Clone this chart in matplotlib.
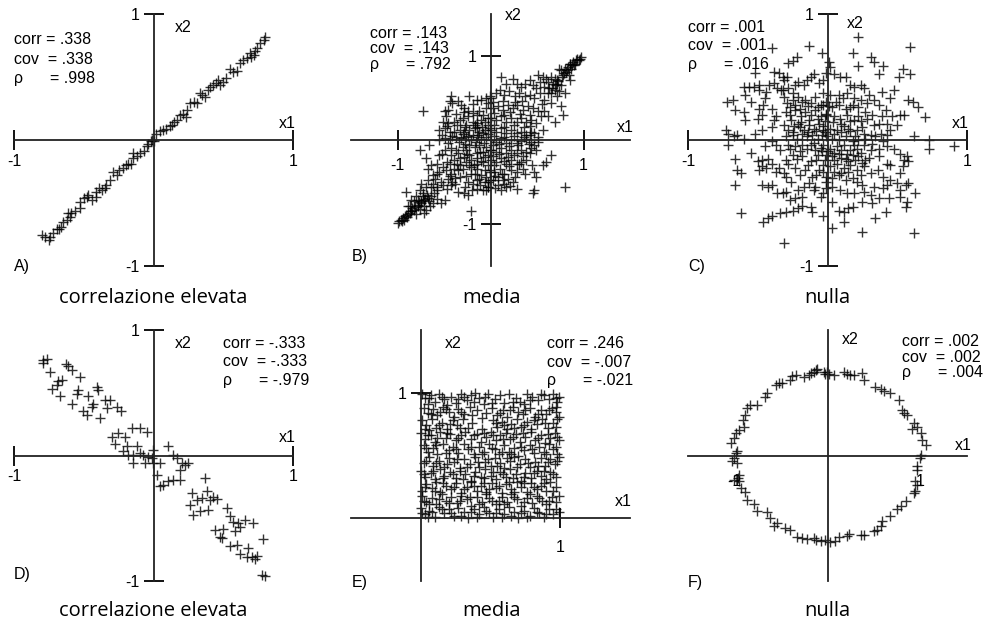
import matplotlib
matplotlib.use('Agg')
import matplotlib.pyplot as plt

W, H = 988, 625
plt.rcParams['font.family'] = ['Liberation Sans', 'DejaVu Sans']

# ---------------- data (x1, x2) ----------------
A_pts = [(-0.80,-0.754),(-0.78,-0.77),(-0.75,-0.79),(-0.74,-0.77),(-0.72,-0.74),(-0.69,-0.71),(-0.675,-0.71),
 (-0.66,-0.69),(-0.65,-0.65),(-0.62,-0.635),(-0.60,-0.61),(-0.59,-0.58),(-0.61,-0.58),(-0.56,-0.56),(-0.53,-0.54),
 (-0.53,-0.49),(-0.50,-0.46),(-0.48,-0.45),(-0.47,-0.44),(-0.44,-0.48),(-0.41,-0.45),(-0.41,-0.41),(-0.39,-0.38),
 (-0.37,-0.40),(-0.35,-0.38),(-0.34,-0.36),(-0.31,-0.32),(-0.29,-0.25),(-0.26,-0.28),(-0.25,-0.24),(-0.22,-0.22),
 (-0.20,-0.20),(-0.18,-0.19),(-0.16,-0.19),(-0.145,-0.145),(-0.145,-0.105),(-0.12,-0.13),(-0.10,-0.105),(-0.07,-0.09),
 (-0.05,-0.05),(-0.04,-0.03),(-0.02,-0.01),(-0.01,0.0),(0.0,-0.01),(0.02,0.05),(0.05,0.07),(0.07,0.08),(0.09,0.09),
 (0.12,0.11),(0.13,0.12),(0.15,0.145),(0.17,0.16),(0.19,0.20),(0.21,0.21),(0.23,0.185),(0.24,0.24),(0.26,0.29),
 (0.29,0.30),(0.31,0.29),(0.33,0.37),(0.345,0.36),(0.37,0.34),(0.39,0.40),(0.405,0.42),(0.43,0.44),(0.45,0.45),
 (0.465,0.48),(0.48,0.44),(0.50,0.46),(0.52,0.49),(0.55,0.56),(0.57,0.54),(0.60,0.55),(0.62,0.61),(0.64,0.635),
 (0.67,0.65),(0.69,0.69),(0.70,0.66),(0.72,0.675),(0.73,0.71),(0.74,0.73),(0.76,0.77),(0.79,0.79),(0.80,0.82)]

B_pts = [(-0.73,0.34),(-0.42,0.52),(-0.44,0.46),(-0.41,0.44),(-0.46,0.36),(-0.49,0.34),(-0.48,0.28),(-0.23,0.52),
 (-0.15,0.48),(-0.10,0.48),(-0.05,0.50),(-0.01,0.52),(-0.03,0.44),(-0.32,0.42),(-0.28,0.38),(-0.24,0.34),(-0.19,0.32),
 (-0.12,0.34),(-0.08,0.30),(-0.05,0.38),(-0.51,0.22),(-0.46,0.20),(-0.39,0.22),(-0.33,0.24),(-0.30,0.26),(-0.24,0.28),
 (-0.19,0.22),(-0.14,0.20),(-0.10,0.24),(-0.06,0.22),(-0.03,0.26),(-0.55,0.12),(-0.49,0.14),(-0.44,0.10),(-0.39,0.10),
 (-0.33,0.12),(-0.28,0.10),(-0.23,0.12),(-0.17,0.14),(-0.12,0.10),(-0.06,0.12),(-0.01,0.14),(-0.55,0.0),(-0.49,0.02),
 (-0.44,0.01),(-0.37,0.03),(-0.32,0.02),(-0.26,0.03),(-0.21,0.0),(-0.15,0.03),(-0.10,0.01),(-0.05,0.03),(-0.66,-0.06),
 (-0.76,-0.12),(-0.69,-0.22),(-0.55,-0.18),(-0.49,-0.12),(-0.42,-0.10),(-0.37,-0.12),(-0.30,-0.08),(-0.23,-0.06),
 (-0.17,-0.08),(-0.12,-0.06),(-0.05,-0.08),(-0.64,-0.30),(-0.67,-0.34),(-0.57,-0.28),(-0.51,-0.32),(-0.44,-0.28),
 (-0.39,-0.24),(-0.33,-0.22),(-0.28,-0.20),(-0.23,-0.18),(-0.15,-0.16),(-0.08,-0.14),(-0.03,-0.18),(-0.62,-0.42),
 (-0.55,-0.38),(-0.48,-0.36),(-0.42,-0.40),(-0.35,-0.36),(-0.30,-0.34),(-0.23,-0.30),(-0.15,-0.28),(-0.08,-0.26),
 (-0.03,-0.30),(-0.75,-0.52),(-0.67,-0.48),(-0.60,-0.46),(-0.53,-0.50),(-0.46,-0.46),(-0.41,-0.50),(-0.33,-0.44),
 (-0.26,-0.43),(-0.17,-0.40),(-0.10,-0.42),(-0.05,-0.44),(-0.91,-0.62),(-0.76,-0.60),(-0.69,-0.56),(-0.64,-0.56),
 (-0.58,-0.56),(-0.51,-0.54),(-0.42,-0.54),(-0.35,-0.62),(-0.28,-0.63),(-0.24,-0.65),(-0.15,-0.58),(-0.08,-0.60),
 (-0.03,-0.56),(-0.85,-0.71),(-0.80,-0.67),(-0.73,-0.67),(-0.75,-0.73),(-0.66,-0.73),(-0.62,-0.75),(-0.53,-0.75),
 (-0.49,-0.71),(-0.89,-0.79),(-0.84,-0.81),(-0.78,-0.77),(-0.69,-0.83),(-0.71,-0.87),(-0.21,-0.85),(-0.98,-0.97),
 (-0.94,-0.93),(-0.91,-0.89),(-0.87,-0.87),(-0.92,-0.91),(-1.00,-0.99),(-0.96,-0.95),(-0.89,-0.88),(-0.85,-0.85),
 (-0.82,-0.83),(-0.78,-0.79),(-0.75,-0.75),(-0.71,-0.72),(-0.67,-0.69),(-0.64,-0.67),(-0.78,-0.71),(-0.73,-0.63),
 (-0.82,-0.73),(-0.87,-0.79),(-0.26,0.18),(-0.19,0.06),(-0.14,0.16),(-0.08,0.08),(-0.03,0.18),(-0.26,-0.12),
 (-0.21,-0.24),(-0.14,-0.22),(-0.06,-0.20),(-0.01,-0.12),(-0.24,-0.50),(-0.19,-0.52),(-0.14,-0.48),(-0.06,-0.50),
 (-0.01,-0.48),(-0.21,-0.32),(-0.14,-0.34),(-0.06,-0.36),(-0.01,-0.38),(-0.33,-0.30),(-0.39,-0.34),
 (0.97,0.99),(0.96,0.97),(0.92,0.95),(0.89,0.93),(0.90,0.89),(0.85,0.91),(0.83,0.87),(0.80,0.85),(0.81,0.81),
 (0.76,0.83),(0.74,0.85),(0.87,0.85),(0.85,0.71),(0.78,0.77),(0.51,0.77),(0.56,0.75),(0.60,0.73),(0.65,0.75),
 (0.69,0.73),(0.71,0.71),(0.62,0.69),(0.67,0.67),(0.72,0.67),(0.58,0.63),(0.63,0.62),(0.69,0.60),(0.74,0.58),
 (0.65,0.56),(0.71,0.52),(0.80,0.56),(0.11,0.75),(0.17,0.67),(0.24,0.73),(0.29,0.67),(0.33,0.63),(0.37,0.67),
 (0.42,0.71),(0.46,0.65),(0.49,0.62),(0.53,0.69),(0.01,0.50),(0.06,0.56),(0.10,0.60),(0.15,0.54),(0.20,0.58),
 (0.26,0.52),(0.31,0.56),(0.37,0.52),(0.42,0.54),(0.47,0.50),(0.53,0.56),(0.58,0.48),(0.65,0.44),(0.76,0.40),
 (0.025,0.38),(0.08,0.40),(0.13,0.36),(0.19,0.42),(0.24,0.38),(0.29,0.42),(0.35,0.36),(0.40,0.40),(0.46,0.38),
 (0.51,0.34),(0.54,0.28),(0.62,0.28),(0.69,0.22),(0.78,0.30),(0.01,0.26),(0.06,0.24),(0.11,0.28),(0.17,0.22),
 (0.22,0.26),(0.28,0.22),(0.33,0.26),(0.38,0.22),(0.44,0.24),(0.49,0.20),(0.56,0.12),(0.47,0.08),(0.01,0.12),
 (0.06,0.10),(0.11,0.14),(0.17,0.08),(0.22,0.12),(0.28,0.08),(0.33,0.10),(0.38,0.06),(0.44,0.10),(0.51,0.03),
 (0.01,0.0),(0.06,-0.02),(0.11,0.02),(0.17,-0.04),(0.22,0.0),(0.28,-0.04),(0.33,-0.01),(0.38,0.01),(0.44,-0.02),
 (0.47,-0.06),(0.01,-0.12),(0.06,-0.14),(0.11,-0.10),(0.17,-0.16),(0.22,-0.12),(0.28,-0.16),(0.33,-0.12),(0.38,-0.14),
 (0.44,-0.10),(0.49,-0.12),(0.01,-0.24),(0.06,-0.26),(0.11,-0.22),(0.17,-0.28),(0.22,-0.24),(0.28,-0.28),(0.33,-0.26),
 (0.38,-0.24),(0.65,-0.18),(0.60,-0.26),(0.56,-0.30),(-0.01,-0.36),(0.04,-0.38),(0.10,-0.34),(0.15,-0.40),(0.22,-0.36),
 (0.29,-0.38),(0.35,-0.34),(0.47,-0.38),(0.49,-0.44),(-0.03,-0.50),(0.025,-0.48),(0.08,-0.44),(0.13,-0.48),(0.19,-0.46),
 (0.24,-0.50),(0.08,-0.54),(0.17,-0.56),(0.15,-0.52),(0.47,-0.60),(0.46,-0.63),(0.80,-0.56),(-0.05,-0.60),(-0.03,-0.56)]

B_pts2 = [(-0.47,0.17),(-0.36,0.18),(-0.27,0.15),(-0.17,0.18),(-0.09,0.16),(0.04,0.18),(0.14,0.16),(0.25,0.18),
 (0.36,0.15),(0.43,0.17),(-0.37,0.31),(-0.29,0.33),(-0.15,0.30),(0.04,0.32),(0.15,0.30),(0.21,0.33),(0.32,0.31),
 (0.43,0.30),(0.57,0.35),(-0.35,0.47),(-0.19,0.43),(0.03,0.45),(0.13,0.47),(0.26,0.45),(0.34,0.47),(0.55,0.43),
 (0.62,0.56),(-0.52,0.06),(-0.41,0.05),(-0.30,0.07),(-0.24,0.05),(-0.13,0.06),(-0.03,0.07),(0.04,0.05),(0.14,0.04),
 (0.25,0.05),(0.36,0.03),(0.42,0.06),(-0.46,-0.04),(-0.34,-0.02),(-0.27,-0.05),(-0.16,-0.02),(-0.07,-0.03),
 (0.03,-0.06),(0.09,-0.05),(0.20,-0.07),(0.30,-0.06),(0.41,-0.05),(0.51,-0.02),(-0.52,-0.17),(-0.43,-0.18),
 (-0.35,-0.15),(-0.25,-0.17),(-0.11,-0.14),(0.03,-0.19),(0.09,-0.17),(0.19,-0.20),(0.25,-0.18),(0.35,-0.19),
 (0.42,-0.16),(-0.47,-0.26),(-0.36,-0.29),(-0.26,-0.26),(-0.18,-0.30),(-0.10,-0.25),(0.04,-0.30),(0.14,-0.25),
 (0.20,-0.31),(0.31,-0.29),(0.45,-0.30),(-0.57,-0.40),(-0.44,-0.43),(-0.38,-0.45),(-0.21,-0.40),(-0.12,-0.46),
 (0.05,-0.43),(0.12,-0.41),(0.26,-0.44),(0.37,-0.41),(-0.62,-0.52),(-0.47,-0.58),(-0.38,-0.52),(-0.27,-0.56),
 (-0.20,-0.60),(-0.11,-0.54),(0.05,-0.57),(0.11,-0.60),(0.21,-0.55),(0.28,-0.58),(-0.95,-0.97),(-0.93,-0.95),
 (-0.90,-0.92),(-0.86,-0.84),(-0.81,-0.80),(-0.77,-0.74),(-0.70,-0.70),(-0.68,-0.65),(-0.61,-0.63),(-0.57,-0.60),
 (-0.80,-0.88),(-0.76,-0.82),(-0.72,-0.78),(-0.65,-0.79),(-0.58,-0.70),(0.95,0.95),(0.93,0.97),(0.91,0.91),
 (0.88,0.89),(0.86,0.90),(0.82,0.83),(0.79,0.80),(0.77,0.75),(0.73,0.70),(0.70,0.65),(0.66,0.62),(0.76,0.66),
 (0.84,0.77)]

C_pts = [(-0.40,0.73),(-0.13,0.75),(-0.04,0.69),(-0.25,0.63),(-0.22,0.66),(-0.28,0.61),(-0.52,0.53),(-0.38,0.54),
 (-0.35,0.53),(-0.32,0.50),(-0.29,0.50),(-0.31,0.48),(-0.12,0.50),(-0.10,0.52),(-0.15,0.48),(-0.21,0.46),(-0.23,0.44),
 (-0.17,0.44),(-0.06,0.45),(-0.03,0.48),(-0.60,0.42),(-0.56,0.42),(-0.53,0.42),(-0.49,0.44),(-0.59,0.36),(-0.49,0.40),
 (-0.44,0.38),(-0.42,0.44),(-0.38,0.45),(-0.36,0.41),(-0.32,0.40),(-0.28,0.41),(-0.25,0.37),(-0.72,0.30),(-0.68,0.32),
 (-0.66,0.24),(-0.60,0.22),(-0.59,0.16),(-0.49,0.25),(-0.47,0.20),(-0.50,0.17),(-0.46,0.28),(-0.40,0.25),(-0.37,0.19),
 (-0.38,0.16),(-0.31,0.34),(-0.29,0.29),(-0.25,0.32),(-0.23,0.28),(-0.21,0.34),(-0.18,0.30),(-0.16,0.32),(-0.12,0.29),
 (-0.09,0.34),(-0.05,0.28),(-0.01,0.30),(-0.30,0.22),(-0.27,0.20),(-0.23,0.24),(-0.19,0.19),(-0.16,0.22),(-0.12,0.20),
 (-0.09,0.24),(-0.05,0.19),(-0.01,0.21),(-0.31,0.12),(-0.28,0.08),(-0.24,0.11),(-0.21,0.13),(-0.17,0.08),(-0.13,0.12),
 (-0.10,0.09),(-0.06,0.13),(-0.03,0.08),(-0.30,0.03),(-0.25,0.04),(-0.22,0.01),(-0.18,0.05),(-0.15,0.03),(-0.11,0.04),
 (-0.07,0.01),(-0.04,0.04),(-0.73,0.08),(-0.71,0.05),(-0.67,0.03),(-0.65,0.04),(-0.71,-0.04),(-0.60,0.01),(-0.47,0.08),
 (-0.40,-0.01),(-0.66,-0.15),(-0.65,-0.24),(-0.62,-0.26),(-0.66,-0.36),(-0.50,-0.17),(-0.47,-0.16),(-0.43,-0.15),
 (-0.49,-0.24),(-0.47,-0.21),(-0.44,-0.22),(-0.40,-0.19),(-0.37,-0.25),(-0.35,-0.22),(-0.31,-0.26),(-0.30,-0.29),
 (-0.47,-0.36),(-0.43,-0.37),(-0.40,-0.36),(-0.36,-0.42),(-0.32,-0.42),(-0.30,-0.41),(-0.27,-0.48),(-0.23,-0.46),
 (-0.18,-0.45),(-0.21,-0.40),(-0.17,-0.37),(-0.13,-0.34),(-0.10,-0.40),(-0.09,-0.37),(-0.05,-0.45),(-0.03,-0.42),
 (-0.01,-0.33),(-0.11,-0.29),(-0.06,-0.24),(-0.16,-0.24),(-0.23,-0.22),(-0.28,-0.19),(-0.25,-0.12),(-0.18,-0.13),
 (-0.12,-0.17),(-0.07,-0.12),(-0.04,-0.09),(-0.23,-0.05),(-0.18,-0.04),(-0.12,-0.04),(-0.09,-0.08),(-0.34,-0.08),
 (-0.37,-0.04),(-0.28,-0.04),(-0.62,-0.58),(-0.46,-0.65),(-0.43,-0.62),(-0.40,-0.60),(-0.34,-0.58),(-0.30,-0.57),
 (-0.25,-0.56),(-0.21,-0.54),(-0.18,-0.52),(-0.11,-0.57),(-0.12,-0.53),(-0.31,-0.82),(-0.03,-0.60),
 (0.22,0.82),(0.59,0.74),(0.18,0.69),(0.31,0.66),(0.33,0.62),(0.22,0.59),(0.40,0.59),(0.37,0.52),(0.54,0.56),
 (0.51,0.50),(0.59,0.52),(0.48,0.40),(0.39,0.38),(0.45,0.33),(0.58,0.32),(0.61,0.30),(0.65,0.26),(0.70,0.18),
 (0.55,0.20),(0.52,0.20),(0.50,0.12),(0.45,0.08),(0.38,0.05),(0.43,0.04),(0.62,0.03),(0.73,0.0),(0.73,-0.07),
 (0.91,-0.05),(0.01,0.62),(0.02,0.58),(-0.01,0.53),(0.05,0.52),(0.09,0.50),(0.13,0.50),(0.16,0.44),(0.19,0.42),
 (0.24,0.44),(0.26,0.41),(-0.03,0.37),(0.02,0.36),(0.08,0.36),(0.14,0.37),(0.19,0.33),(0.24,0.32),(0.28,0.29),
 (0.33,0.32),(0.37,0.28),(0.42,0.24),(-0.03,0.28),(0.03,0.26),(0.08,0.28),(0.13,0.25),(0.18,0.28),(0.22,0.26),
 (0.27,0.22),(0.32,0.20),(0.39,0.19),(-0.01,0.20),(0.05,0.19),(0.09,0.17),(0.14,0.20),(0.19,0.16),(0.24,0.15),
 (0.28,0.17),(0.33,0.12),(0.37,0.13),(0.43,0.13),(-0.03,0.11),(0.02,0.09),(0.07,0.08),(0.12,0.11),(0.16,0.07),
 (0.21,0.08),(0.26,0.05),(0.31,0.04),(0.34,0.03),(-0.01,0.03),(0.03,0.01),(0.08,0.0),(0.13,0.03),(0.18,-0.01),
 (0.22,0.0),(0.27,0.01),(0.32,-0.03),(0.40,-0.01),(-0.03,-0.04),(0.02,-0.07),(0.07,-0.05),(0.12,-0.04),(0.16,-0.08),
 (0.21,-0.07),(0.26,-0.04),(0.31,-0.08),(0.37,-0.07),(0.43,-0.05),(0.48,-0.07),(-0.01,-0.12),(0.03,-0.13),(0.08,-0.11),
 (0.13,-0.15),(0.18,-0.12),(0.22,-0.13),(0.27,-0.16),(0.37,-0.13),(0.43,-0.19),(0.45,-0.20),(0.52,-0.11),(0.55,-0.16),
 (0.57,-0.13),(-0.03,-0.20),(0.02,-0.21),(0.07,-0.19),(0.12,-0.22),(0.16,-0.20),(0.21,-0.24),(0.26,-0.21),(0.31,-0.26),
 (0.40,-0.29),(0.45,-0.32),(0.50,-0.34),(0.54,-0.21),(0.58,-0.17),(-0.01,-0.29),(0.03,-0.30),(0.08,-0.28),(0.13,-0.32),
 (0.18,-0.30),(0.21,-0.33),(0.25,-0.36),(0.33,-0.37),(0.43,-0.36),(0.56,-0.36),(0.52,-0.40),(0.58,-0.34),(-0.01,-0.38),
 (0.03,-0.37),(0.09,-0.40),(0.14,-0.42),(0.19,-0.42),(0.26,-0.41),(0.31,-0.44),(0.37,-0.46),(0.44,-0.46),(0.52,-0.45),
 (0.57,-0.49),(0.63,-0.42),(0.03,-0.49),(0.08,-0.56),(0.12,-0.57),(0.15,-0.54),(0.18,-0.53),(0.25,-0.49),(0.32,-0.50),
 (0.42,-0.57),(0.56,-0.53),(0.34,-0.62),(0.12,-0.65),(0.03,-0.70),(0.25,-0.73),(0.62,-0.74)]

C_pts2 = [(-0.27,0.26),(-0.20,0.25),(-0.14,0.27),(-0.07,0.26),(0.01,0.27),(0.06,0.30),(0.11,0.33),(0.16,0.26),
 (-0.26,0.16),(-0.19,0.14),(-0.13,0.16),(-0.07,0.17),(-0.02,0.15),(0.04,0.14),(0.10,0.13),(0.16,0.15),(0.22,0.19),
 (-0.25,0.06),(-0.20,0.10),(-0.14,0.06),(-0.08,0.07),(-0.02,0.06),(0.05,0.05),(0.10,0.06),(0.15,0.09),(0.20,0.03),
 (0.25,0.10),(-0.27,-0.07),(-0.20,-0.09),(-0.15,-0.07),(-0.10,-0.02),(-0.05,-0.06),(0.00,-0.09),(0.05,-0.10),
 (0.10,-0.08),(0.14,-0.11),(0.19,-0.04),(0.24,-0.10),(-0.30,-0.16),(-0.22,-0.15),(-0.14,-0.20),(-0.08,-0.16),
 (-0.02,-0.16),(0.05,-0.16),(0.10,-0.14),(0.15,-0.17),(0.20,-0.16),(0.25,-0.18),(0.30,-0.14),(-0.26,-0.33),
 (-0.20,-0.28),(-0.08,-0.28),(-0.03,-0.25),(0.05,-0.25),(0.10,-0.26),(0.15,-0.25),(0.24,-0.28),(0.36,-0.24),
 (-0.52,0.05),(-0.45,-0.05),(-0.55,-0.10),(-0.40,0.10),(-0.33,0.40),(-0.45,0.33),(-0.55,0.30),(0.30,0.36),
 (0.46,0.19),(0.52,-0.26),(0.40,-0.38)]

D_pts = [(-0.79,0.757),(-0.766,0.768),(-0.79,0.736),(-0.742,0.669),(-0.73,0.529),(-0.694,0.563),(-0.682,0.59),
 (-0.658,0.603),(-0.67,0.475),(-0.627,0.73),(-0.61,0.714),(-0.587,0.683),(-0.527,0.624),(-0.539,0.523),(-0.551,0.491),
 (-0.587,0.412),(-0.503,0.351),(-0.479,0.324),(-0.467,0.475),(-0.443,0.39),(-0.431,0.412),(-0.407,0.545),(-0.395,0.523),
 (-0.384,0.297),(-0.348,0.444),(-0.336,0.377),(-0.312,0.444),(-0.264,0.39),(-0.235,0.351),(-0.30,0.151),(-0.276,0.093),
 (-0.252,0.178),(-0.204,0.151),(-0.157,0.218),(-0.097,0.218),(-0.049,0.191),(-0.192,0.077),(-0.121,0.077),(-0.216,0.032),
 (-0.18,0.005),(-0.145,0.005),(-0.097,0.019),(-0.073,0.005),(-0.037,-0.008),(-0.001,0.045),(-0.013,-0.021),(-0.145,-0.061),
 (-0.061,-0.061),(-0.001,-0.061),(0.047,-0.061),(0.106,0.072),(0.142,0.005),(0.166,-0.021),(0.202,-0.061),(0.19,-0.114),
 (0.226,-0.074),(0.25,-0.061),(0.023,-0.154),(0.047,-0.247),(0.07,-0.234),(0.106,-0.207),(0.142,-0.194),(0.19,-0.194),
 (0.274,-0.30),(0.31,-0.353),(0.345,-0.34),(0.369,-0.181),(0.381,-0.279),(0.405,-0.353),(0.429,-0.327),(0.453,-0.348),
 (0.262,-0.393),(0.286,-0.473),(0.333,-0.446),(0.393,-0.438),(0.525,-0.42),(0.548,-0.486),(0.572,-0.526),(0.608,-0.534),
 (0.656,-0.513),(0.716,-0.534),(0.441,-0.592),(0.477,-0.651),(0.501,-0.587),(0.584,-0.598),(0.62,-0.566),(0.489,-0.661),
 (0.548,-0.725),(0.596,-0.712),(0.68,-0.738),(0.62,-0.784),(0.668,-0.805),(0.704,-0.81),(0.74,-0.80),(0.728,-0.826),
 (0.775,-0.951),(0.799,-0.959),(0.787,-0.667)]

E_pts = [(0.01,0.99),(0.03,0.96),(0.07,0.98),(0.10,0.93),(0.13,0.99),(0.17,0.95),(0.22,0.97),(0.25,0.92),(0.29,0.99),
 (0.33,0.94),(0.36,0.98),(0.39,1.0),(0.42,0.96),(0.45,0.91),(0.48,0.99),(0.53,0.95),(0.57,0.98),(0.60,0.92),(0.63,0.99),
 (0.68,0.96),(0.71,0.93),(0.76,0.99),(0.80,0.97),(0.84,0.94),(0.88,0.98),(0.92,0.95),(0.95,0.99),(0.98,0.93),(0.99,0.97),
 (0.05,0.91),(0.19,0.90),(0.38,0.93),(0.74,0.91),
 (0.02,0.88),(0.05,0.84),(0.09,0.87),(0.12,0.82),(0.16,0.89),(0.20,0.85),(0.24,0.81),(0.27,0.87),(0.31,0.83),(0.35,0.89),
 (0.40,0.86),(0.47,0.84),(0.51,0.88),(0.55,0.82),(0.59,0.86),(0.62,0.81),(0.66,0.89),(0.70,0.85),(0.73,0.83),(0.78,0.88),
 (0.82,0.81),(0.86,0.86),(0.90,0.83),(0.94,0.88),(0.97,0.85),(0.99,0.81),(0.44,0.80),(0.14,0.85),
 (0.01,0.78),(0.04,0.74),(0.08,0.79),(0.11,0.72),(0.15,0.76),(0.19,0.71),(0.23,0.78),(0.26,0.74),(0.30,0.79),(0.34,0.72),
 (0.37,0.76),(0.52,0.78),(0.55,0.73),(0.58,0.77),(0.62,0.71),(0.65,0.75),(0.69,0.79),(0.72,0.73),(0.76,0.77),(0.79,0.71),
 (0.83,0.75),(0.87,0.79),(0.91,0.72),(0.95,0.76),(0.98,0.79),(0.44,0.71),(0.06,0.70),
 (0.00,0.68),(0.03,0.63),(0.07,0.66),(0.10,0.61),(0.14,0.69),(0.18,0.64),(0.21,0.67),(0.25,0.62),(0.29,0.66),(0.32,0.69),
 (0.36,0.63),(0.40,0.67),(0.43,0.61),(0.47,0.65),(0.50,0.69),(0.54,0.62),(0.57,0.66),(0.61,0.68),(0.64,0.63),(0.68,0.67),
 (0.71,0.61),(0.75,0.65),(0.79,0.69),(0.82,0.62),(0.86,0.66),(0.89,0.60),(0.93,0.64),(0.96,0.68),(0.99,0.62),
 (0.02,0.58),(0.05,0.53),(0.09,0.56),(0.12,0.51),(0.16,0.59),(0.20,0.54),(0.23,0.57),(0.27,0.52),(0.31,0.59),(0.34,0.55),
 (0.38,0.51),(0.42,0.57),(0.45,0.53),(0.49,0.59),(0.53,0.55),(0.56,0.51),(0.60,0.58),(0.63,0.53),(0.67,0.56),(0.70,0.50),
 (0.74,0.54),(0.78,0.58),(0.81,0.52),(0.85,0.57),(0.88,0.53),(0.92,0.59),(0.95,0.55),(0.98,0.51),
 (0.02,0.44),(0.06,0.49),(0.09,0.42),(0.13,0.46),(0.17,0.41),(0.20,0.48),(0.24,0.45),(0.28,0.40),(0.31,0.47),(0.35,0.43),
 (0.39,0.49),(0.42,0.41),(0.46,0.45),(0.50,0.42),(0.53,0.48),(0.57,0.44),(0.60,0.40),(0.64,0.46),(0.67,0.49),(0.71,0.43),
 (0.75,0.47),(0.78,0.41),(0.82,0.45),(0.86,0.48),(0.89,0.42),(0.93,0.47),(0.96,0.43),(0.99,0.49),
 (0.00,0.38),(0.03,0.33),(0.07,0.36),(0.10,0.31),(0.14,0.39),(0.17,0.34),(0.21,0.37),(0.25,0.32),(0.28,0.38),(0.32,0.35),
 (0.36,0.30),(0.39,0.37),(0.43,0.33),(0.46,0.39),(0.50,0.34),(0.54,0.31),(0.57,0.37),(0.61,0.33),(0.64,0.39),(0.68,0.35),
 (0.72,0.30),(0.75,0.36),(0.79,0.32),(0.83,0.38),(0.86,0.34),(0.90,0.31),(0.93,0.37),(0.97,0.33),
 (0.01,0.22),(0.04,0.27),(0.08,0.24),(0.11,0.29),(0.14,0.21),(0.18,0.26),(0.22,0.23),(0.25,0.28),(0.29,0.20),(0.33,0.25),
 (0.36,0.29),(0.40,0.22),(0.43,0.26),(0.47,0.21),(0.51,0.28),(0.54,0.24),(0.58,0.20),(0.61,0.27),(0.65,0.23),(0.69,0.29),
 (0.72,0.25),(0.76,0.21),(0.79,0.28),(0.83,0.23),(0.86,0.26),(0.90,0.22),(0.93,0.29),(0.97,0.25),
 (0.01,0.18),(0.04,0.13),(0.08,0.16),(0.11,0.11),(0.15,0.19),(0.18,0.14),(0.22,0.17),(0.26,0.12),(0.29,0.18),(0.33,0.15),
 (0.36,0.10),(0.40,0.17),(0.44,0.13),(0.47,0.19),(0.51,0.14),(0.54,0.11),(0.58,0.17),(0.62,0.13),(0.65,0.19),(0.69,0.15),
 (0.72,0.10),(0.76,0.16),(0.80,0.12),(0.83,0.18),(0.87,0.14),(0.90,0.11),(0.94,0.17),(0.97,0.13),
 (0.00,0.08),(0.03,0.03),(0.06,0.06),(0.10,0.01),(0.13,0.09),(0.17,0.04),(0.20,0.07),(0.24,0.02),(0.27,0.08),(0.31,0.05),
 (0.34,0.00),(0.38,0.07),(0.42,0.03),(0.45,0.09),(0.49,0.04),(0.52,0.01),(0.56,0.07),(0.60,0.03),(0.63,0.09),(0.67,0.05),
 (0.70,0.00),(0.74,0.06),(0.78,0.02),(0.81,0.08),(0.85,0.04),(0.88,0.01),(0.92,0.07),(0.95,0.03),(0.99,0.05)]

E_pts2 = [(0.06,0.96),(0.15,0.97),(0.27,0.95),(0.31,0.97),(0.46,0.97),(0.51,0.92),(0.66,0.93),(0.78,0.94),(0.86,0.99),
 (0.97,0.96),(0.07,0.83),(0.18,0.87),(0.29,0.85),(0.37,0.82),(0.57,0.84),(0.64,0.86),(0.75,0.86),(0.84,0.83),(0.92,0.86),
 (0.97,0.89),(0.03,0.71),(0.13,0.74),(0.21,0.75),(0.28,0.72),(0.54,0.76),(0.60,0.74),(0.67,0.72),(0.74,0.74),(0.81,0.78),
 (0.89,0.76),(0.97,0.73),(0.05,0.66),(0.12,0.64),(0.19,0.68),(0.27,0.64),(0.38,0.66),(0.45,0.68),(0.52,0.66),(0.59,0.63),
 (0.66,0.65),(0.73,0.68),(0.84,0.64),(0.91,0.67),(0.98,0.65),(0.04,0.56),(0.11,0.58),(0.18,0.52),(0.25,0.55),(0.36,0.57),
 (0.44,0.51),(0.51,0.56),(0.58,0.53),(0.65,0.51),(0.72,0.57),(0.80,0.55),(0.90,0.51),(0.97,0.57),(0.04,0.46),(0.11,0.44),
 (0.19,0.43),(0.26,0.47),(0.33,0.41),(0.41,0.45),(0.48,0.47),(0.55,0.42),(0.62,0.48),(0.69,0.41),(0.77,0.44),(0.84,0.42),
 (0.91,0.45),(0.98,0.46),(0.02,0.35),(0.09,0.38),(0.16,0.32),(0.23,0.35),(0.30,0.31),(0.38,0.34),(0.45,0.32),(0.52,0.37),
 (0.59,0.35),(0.66,0.32),(0.74,0.33),(0.81,0.36),(0.88,0.38),(0.95,0.35),(0.03,0.25),(0.10,0.22),(0.16,0.28),(0.24,0.25),
 (0.31,0.23),(0.38,0.26),(0.45,0.28),(0.49,0.23),(0.56,0.26),(0.63,0.29),(0.67,0.21),(0.74,0.28),(0.81,0.25),(0.88,0.28),
 (0.95,0.22),(0.02,0.14),(0.06,0.11),(0.13,0.15),(0.20,0.12),(0.28,0.14),(0.35,0.17),(0.42,0.11),(0.49,0.16),(0.56,0.14),
 (0.60,0.11),(0.67,0.17),(0.74,0.13),(0.78,0.19),(0.85,0.16),(0.92,0.14),(0.99,0.18),(0.01,0.04),(0.05,0.01),(0.08,0.05),
 (0.15,0.07),(0.22,0.04),(0.29,0.02),(0.36,0.05),(0.40,0.01),(0.47,0.06),(0.54,0.04),(0.58,0.01),(0.65,0.02),(0.72,0.04),
 (0.76,0.01),(0.83,0.05),(0.90,0.03),(0.97,0.07)]

F_pts = [(-0.147,1.0),(-0.129,1.02),(-0.111,1.028),(-0.039,1.0),(-0.022,0.972),(-0.004,1.0),(0.014,0.98),(0.068,0.96),
 (0.176,1.0),(0.211,0.98),(0.247,0.96),(0.283,0.96),(0.373,0.988),(0.391,0.90),(0.516,0.813),(0.57,0.79),(0.606,0.774),
 (0.677,0.742),(0.767,0.663),(0.803,0.544),(0.821,0.504),(0.857,0.484),(0.928,0.385),(0.91,0.313),(0.964,0.345),
 (1.0,0.266),(1.018,0.187),(1.054,0.127),(1.0,0.008),(0.993,-0.032),(0.957,-0.131),(0.964,-0.171),(0.946,-0.31),
 (0.964,-0.349),(0.946,-0.429),(0.928,-0.448),(0.839,-0.548),(0.785,-0.607),(0.749,-0.639),(0.677,-0.726),(0.588,-0.786),
 (0.57,-0.845),(0.534,-0.885),(0.498,-0.905),(0.391,-0.956),(0.355,-0.956),(0.229,-0.944),(0.211,-0.964),(0.122,-0.972),
 (0.086,-1.024),(0.032,-1.036),(-0.022,-1.012),(-0.075,-1.024),(-0.129,-1.004),(-0.147,-0.984),(-0.219,-0.996),
 (-0.272,-0.984),(-0.326,-0.972),(-0.398,-0.885),(-0.452,-0.865),(-0.541,-0.806),(-0.577,-0.845),(-0.613,-0.746),
 (-0.649,-0.679),(-0.756,-0.667),(-0.792,-0.575),(-0.864,-0.528),(-0.882,-0.44),(-0.935,-0.389),(-0.953,-0.31),
 (-0.964,-0.27),(-1.007,-0.29),(-0.953,-0.23),(-0.971,-0.091),(-1.007,-0.032),(-1.025,-0.071),(-0.989,0.028),
 (-0.971,0.048),(-1.043,0.147),(-1.007,0.206),(-0.989,0.266),(-0.953,0.306),(-0.9,0.345),(-0.907,0.425),(-0.882,0.484),
 (-0.864,0.563),(-0.828,0.603),(-0.756,0.603),(-0.667,0.702),(-0.649,0.742),(-0.559,0.841),(-0.523,0.869),(-0.487,0.869),
 (-0.398,0.90),(-0.38,0.948),(-0.344,0.96),(-0.254,0.94),(-0.201,0.96),(-0.176,0.988)]

stats = {
    'A': ('.338', '.338', '.998'), 'B': ('.143', '.143', '.792'), 'C': ('.001', '.001', '.016'),
    'D': ('-.333', '-.333', '-.979'), 'E': ('.246', '-.007', '-.021'), 'F': ('.002', '.002', '.004'),
}
captions = ['correlazione elevata', 'media', 'nulla']

# ---------------- layout ----------------
fig = plt.figure(figsize=(W / 100, H / 100), dpi=100)


def rect(l, t, w, h):
    return [l / W, 1 - (t + h) / H, w / W, h / H]


def ftext(x, y, s, **kw):
    kw.setdefault('fontsize', 11.5)
    kw.setdefault('va', 'center')
    fig.text(x / W, 1 - y / H, s, **kw)


panels = [
    ('A', A_pts, (14, 14, 279, 252), (-1, 1), (-1, 1), [-1, 1], [-1, 1], 14, 3, 3, (14, 40), 19, (183, 28), (287, 123), (14, 267)),
    ('B', B_pts + B_pts2, (351, 14, 279, 252), (-1.5, 1.5), (-1.5, 1.5), [-1, 1], [-1, 1], 14, 6, 3, (370, 33), 15.5, (513, 15), (625, 128), (352, 257)),
    ('C', C_pts + C_pts2, (688, 14, 279, 252), (-1, 1), (-1, 1), [-1, 1], [-1, 1], 14, 3, 3, (688, 27), 19, (855, 23), (960, 123), (688, 267)),
    ('D', D_pts, (14, 330, 279, 251), (-1, 1), (-1, 1), [-1, 1], [-1, 1], 14, 3, 3, (223, 343), 18.5, (183, 343), (287, 438), (14, 575)),
    ('E', E_pts + E_pts2, (351, 330, 279, 251), (-0.5, 1.5), (-0.5, 1.5), [1], [1], 14, 9, 3, (547, 343), 19, (453, 343), (623, 502), (352, 583)),
    ('F', F_pts, (688, 330, 279, 251), (-1.5, 1.5), (-1.5, 1.5), [-1, 1], [], 0, 13, 3, (902, 341), 16, (850, 340), (963, 445), (688, 582)),
]

for (key, pts, box, xlim, ylim, xt, yt, tl, xpad, ypad, sxy, sp, x2p, x1p, lp) in panels:
    ax = fig.add_axes(rect(*box))
    ax.set_xlim(*xlim)
    ax.set_ylim(*ylim)
    ax.patch.set_alpha(0)
    for s in ('top', 'right'):
        ax.spines[s].set_visible(False)
    for s in ('left', 'bottom'):
        ax.spines[s].set_position(('data', 0))
        ax.spines[s].set_linewidth(1.3)
        ax.spines[s].set_color('#222222')
    ax.set_xticks(xt)
    ax.set_xticklabels([str(v) for v in xt])
    ax.set_yticks(yt)
    ax.set_yticklabels([str(v) for v in yt])
    ax.tick_params(axis='x', direction='inout', length=tl, width=1.3, labelsize=11.5, pad=xpad)
    ax.tick_params(axis='y', direction='inout', length=tl, width=1.3, labelsize=11.5, pad=ypad)
    xs = [p[0] for p in pts]
    ys = [p[1] for p in pts]
    ax.plot(xs, ys, '+', color='black', ms=7, mew=1.0, alpha=0.8, clip_on=False)

    corr, cov, rho = stats[key]
    x0, y0 = sxy
    ftext(x0, y0, 'corr = ' + corr)
    ftext(x0, y0 + sp, 'cov  = ' + cov)
    ftext(x0, y0 + 2 * sp, 'ρ      = ' + rho)
    ftext(*x2p, 'x2', ha='center')
    ftext(*x1p, 'x1', ha='center')
    ftext(*lp, key + ')')

for row_y in (298, 611):
    for cx, cap in zip((153, 491, 827), captions):
        ftext(cx, row_y, cap, ha='center', fontsize=14.5, family=['Open Sans', 'DejaVu Sans'])

fig.savefig('out.png', dpi=100)
